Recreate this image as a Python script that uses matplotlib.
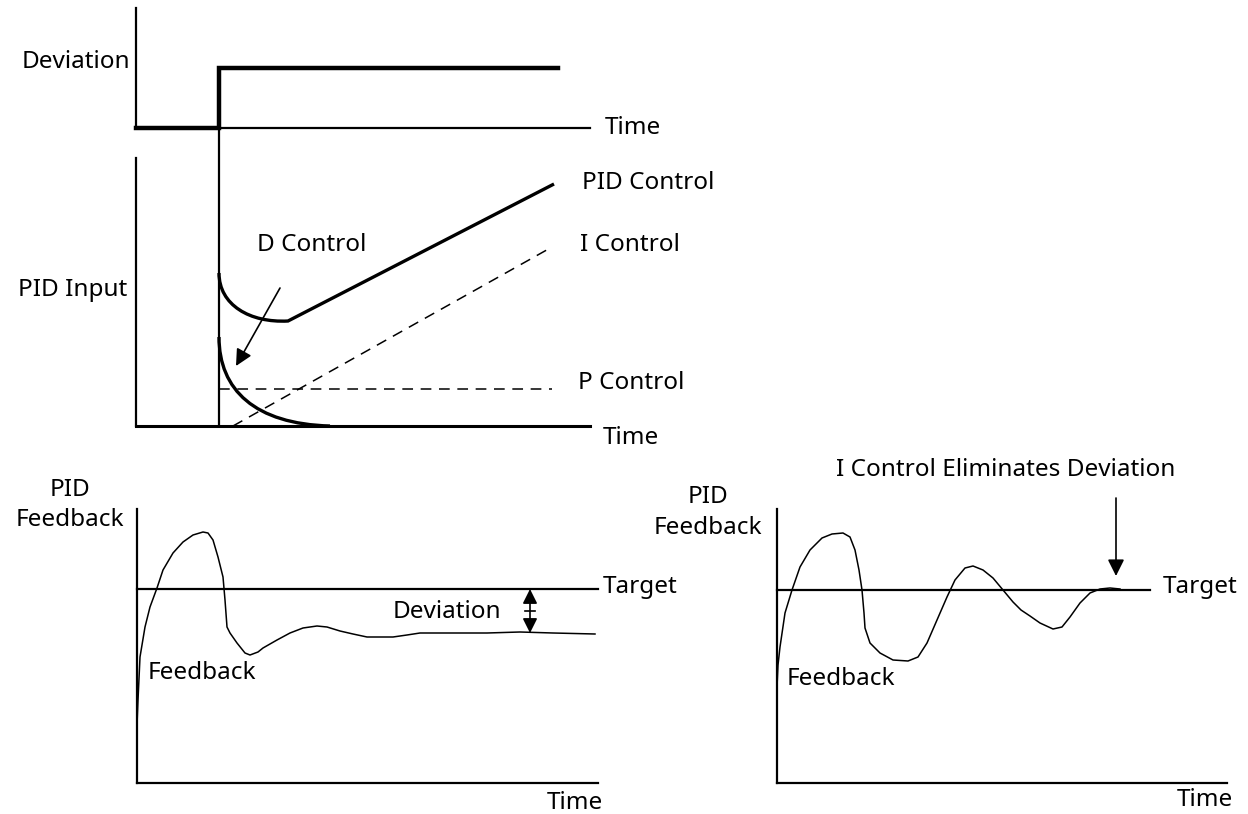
import matplotlib
matplotlib.use("Agg")
import matplotlib.pyplot as plt
from matplotlib.path import Path
from matplotlib.patches import PathPatch

plt.rcParams['font.family'] = ['Noto Sans', 'DejaVu Sans']

# all positions are in picture pixels (x right, y down)

# top panel: deviation step
step_x = [136, 219, 219, 558]
step_y = [128, 128, 68, 68]

# middle panel: PID input parts (curved bits as bezier points)
pid_x = [219, 219, 250, 288, 554]
pid_y = [273, 305, 323, 321, 184]
d_x = [219, 219, 255, 330]
d_y = [337, 390, 424, 426]
i_x = [233, 552]
i_y = [426, 247]
p_x = [219, 552]
p_y = [389, 389]

# bottom left: feedback with remaining deviation
fb1_x = [137, 138, 140, 145, 150, 157, 163, 173, 183, 193, 203, 208, 213, 218,
         223, 225, 227, 230, 237, 245, 250, 258, 263, 277, 290, 303, 317, 327,
         340, 353, 367, 380, 393, 407, 420, 453, 487, 520, 553, 595]
fb1_y = [725, 700, 657, 627, 607, 588, 570, 553, 542, 535, 532, 533, 540, 557,
         577, 600, 627, 633, 643, 653, 655, 652, 648, 640, 633, 628, 626, 627,
         631, 634, 637, 637, 637, 635, 633, 633, 633, 632, 633, 634]

# bottom right: feedback settling on target
fb2_x = [777, 778, 780, 785, 792, 800, 810, 822, 832, 843, 850, 855, 859, 862,
         864, 865, 870, 880, 893, 908, 918, 927, 937, 947, 955, 965, 973, 983,
         993, 1003, 1013, 1021, 1030, 1040, 1053, 1062, 1070, 1080, 1090, 1100,
         1110, 1120]
fb2_y = [687, 665, 647, 613, 590, 567, 550, 538, 534, 533, 537, 550, 570, 590,
         613, 628, 643, 653, 660, 661, 657, 643, 620, 597, 580, 568, 566, 570,
         578, 590, 602, 610, 616, 623, 629, 627, 617, 603, 593, 589, 588, 589]

fig = plt.figure(figsize=(12.48, 8.14), dpi=100)
ax = fig.add_axes([0, 0, 1, 1])
ax.set_xlim(0, 1248)
ax.set_ylim(814, 0)
ax.axis('off')

k = 'black'
fs = 17.5

# --- top panel ---
ax.plot([136, 136], [8, 128], color=k, lw=1.6)
ax.plot([136, 590], [128, 128], color=k, lw=1.6)
ax.plot(step_x, step_y, color=k, lw=3.2, solid_joinstyle='miter')
ax.text(22, 62, 'Deviation', fontsize=fs, va='center', ha='left')
ax.text(605, 128, 'Time', fontsize=fs, va='center', ha='left')

# --- middle panel ---
ax.plot([136, 136], [158, 426], color=k, lw=1.6)
ax.plot([136, 590], [426, 426], color=k, lw=2.2)
ax.plot([219, 219], [128, 426], color=k, lw=1.6)

pid_path = Path(list(zip(pid_x, pid_y)),
                [Path.MOVETO, Path.CURVE4, Path.CURVE4, Path.CURVE4, Path.LINETO])
ax.add_patch(PathPatch(pid_path, fc='none', ec=k, lw=2.4))
d_path = Path(list(zip(d_x, d_y)),
              [Path.MOVETO, Path.CURVE4, Path.CURVE4, Path.CURVE4])
ax.add_patch(PathPatch(d_path, fc='none', ec=k, lw=2.4))

ax.plot(i_x, i_y, color=k, lw=1.1, ls=(0, (7, 5)))
ax.plot(p_x, p_y, color=k, lw=1.1, ls=(0, (7, 5)))
ax.annotate('', xy=(236, 366), xytext=(280, 288),
            arrowprops=dict(arrowstyle='-|>', color=k, lw=1.2,
                            mutation_scale=25, shrinkA=0, shrinkB=0))
ax.text(18, 290, 'PID Input', fontsize=fs, va='center', ha='left')
ax.text(312, 245, 'D Control', fontsize=fs, va='center', ha='center')
ax.text(582, 183, 'PID Control', fontsize=fs, va='center', ha='left')
ax.text(580, 245, 'I Control', fontsize=fs, va='center', ha='left')
ax.text(578, 383, 'P Control', fontsize=fs, va='center', ha='left')
ax.text(603, 438, 'Time', fontsize=fs, va='center', ha='left')

# --- bottom left panel ---
ax.plot([137, 137], [509, 783], color=k, lw=1.6)
ax.plot([137, 598], [783, 783], color=k, lw=1.6)
ax.plot([137, 598], [589, 589], color=k, lw=1.6)
ax.plot(fb1_x, fb1_y, color=k, lw=1.1)
ax.annotate('', xy=(530, 589), xytext=(530, 633),
            arrowprops=dict(arrowstyle='<|-|>', color=k, lw=1.2,
                            mutation_scale=22, shrinkA=0, shrinkB=0))
ax.plot([525, 535], [611, 611], color=k, lw=1.2)
ax.text(70, 490, 'PID', fontsize=fs, va='center', ha='center')
ax.text(70, 520, 'Feedback', fontsize=fs, va='center', ha='center')
ax.text(603, 587, 'Target', fontsize=fs, va='center', ha='left')
ax.text(447, 612, 'Deviation', fontsize=fs, va='center', ha='center')
ax.text(148, 673, 'Feedback', fontsize=fs, va='center', ha='left')
ax.text(575, 803, 'Time', fontsize=fs, va='center', ha='center')

# --- bottom right panel ---
ax.plot([777, 777], [509, 783], color=k, lw=1.6)
ax.plot([777, 1227], [783, 783], color=k, lw=1.6)
ax.plot([777, 1150], [590, 590], color=k, lw=1.6)
ax.plot(fb2_x, fb2_y, color=k, lw=1.1)
ax.annotate('', xy=(1116, 576), xytext=(1116, 498),
            arrowprops=dict(arrowstyle='-|>', color=k, lw=1.2,
                            mutation_scale=25, shrinkA=0, shrinkB=0))
ax.text(1006, 470, 'I Control Eliminates Deviation', fontsize=fs,
        va='center', ha='center')
ax.text(708, 497, 'PID', fontsize=fs, va='center', ha='center')
ax.text(708, 528, 'Feedback', fontsize=fs, va='center', ha='center')
ax.text(1163, 587, 'Target', fontsize=fs, va='center', ha='left')
ax.text(787, 679, 'Feedback', fontsize=fs, va='center', ha='left')
ax.text(1205, 800, 'Time', fontsize=fs, va='center', ha='center')

plt.savefig('out.png', dpi=100)
plt.close()
